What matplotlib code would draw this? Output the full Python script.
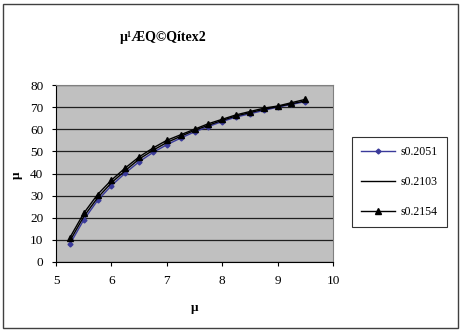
import matplotlib
matplotlib.use("Agg")
import matplotlib.pyplot as plt
from matplotlib.patches import Rectangle

x = [5.25, 5.5, 5.75, 6.0, 6.25, 6.5, 6.75, 7.0, 7.25, 7.5, 7.75, 8.0, 8.25, 8.5, 8.75, 9.0, 9.25, 9.5]
s1 = [8, 19, 27.8, 34.5, 40.2, 45.3, 49.5, 53, 56, 58.8, 61.2, 63.5, 65.5, 67, 68.5, 70, 71.2, 72.5]
s2 = [9.5, 20.5, 29, 35.8, 41.3, 46.5, 50.5, 54, 56.8, 59.5, 61.8, 64, 66, 67.5, 69, 70.2, 71.5, 72.8]
s3 = [11, 22, 30.5, 37, 42.5, 47.5, 51.5, 55, 57.5, 60, 62.5, 64.5, 66.5, 68, 69.5, 70.5, 72, 73.5]
labels = ["s0.2051", "s0.2103", "s0.2154"]
title = "µ¹ÆQ©Qítex2"
xlabel = "µ"
ylabel = "µ"
xticks = [5, 6, 7, 8, 9, 10]
yticks = [0, 10, 20, 30, 40, 50, 60, 70, 80]

plt.rcParams['font.family'] = ['Liberation Serif', 'DejaVu Serif']

fig = plt.figure(figsize=(4.62, 3.32), dpi=100)
fig.patches.append(Rectangle((3/462, 4/332), 455/462, 324/332, transform=fig.transFigure,
                             fill=False, edgecolor='#404040', linewidth=1.0))

ax = fig.add_axes([56/462, 70/332, 277/462, 177/332])
ax.set_facecolor('#C0C0C0')
ax.plot(x, s1, color='#3A3A9A', marker='D', markersize=2.5, linewidth=1.0, label=labels[0])
ax.plot(x, s2, color='black', linewidth=1.0, label=labels[1])
ax.plot(x, s3, color='black', marker='^', markersize=4.5, linewidth=1.0, label=labels[2])

ax.set_xlim(5, 10)
ax.set_ylim(0, 80)
ax.set_xticks(xticks)
ax.set_yticks(yticks)
ax.tick_params(axis='both', labelsize=9.5, direction='out', length=3, width=0.8, pad=6)
ax.yaxis.grid(True, color='#202020', linewidth=0.9)
ax.set_axisbelow(True)
for side in ['top', 'right']:
    ax.spines[side].set_color('#808080')
for side in ['left', 'bottom']:
    ax.spines[side].set_color('black')

fig.text(195/462, 1 - 308/332, xlabel, fontsize=9.5, fontweight='bold', ha='center', va='center')
fig.text(17/462, 1 - 175/332, ylabel, fontsize=9.5, fontweight='bold', ha='center', va='center', rotation=90)
fig.text(163/462, 1 - 37/332, title, fontsize=10, fontweight='bold', ha='center', va='center')

leg = fig.legend(loc='upper left', bbox_to_anchor=(352/462, 1 - 137/332), fontsize=8.5,
                 frameon=True, fancybox=False, edgecolor='black', handlelength=2.8,
                 labelspacing=1.5, borderpad=0.8, handletextpad=0.5, borderaxespad=0)
leg.get_frame().set_linewidth(0.8)

fig.savefig("out.png", dpi=100)
